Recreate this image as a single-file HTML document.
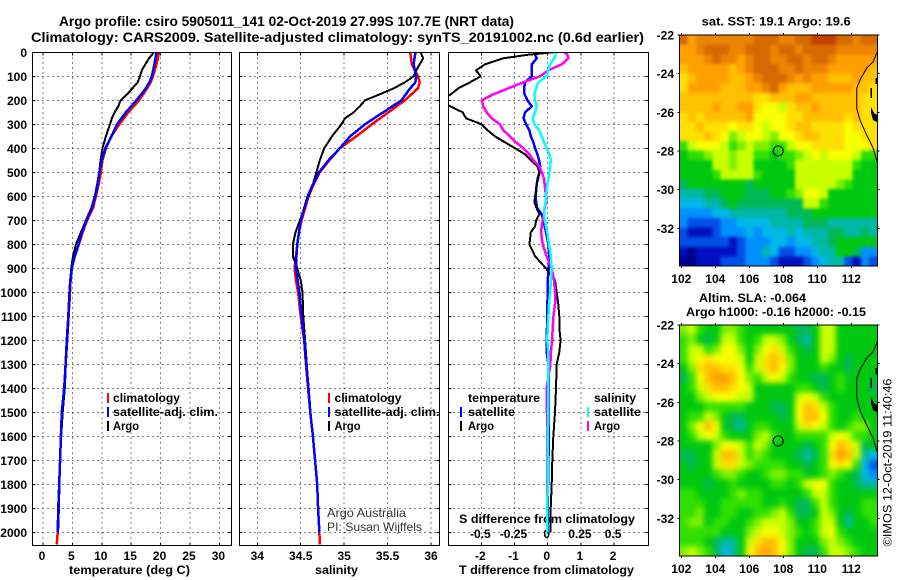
<!DOCTYPE html>
<html lang="en">
<head>
<meta charset="utf-8">
<title>Argo profile csiro 5905011_141</title>
<style>
html,body{margin:0;padding:0;background:#fff;}
svg{display:block;}
text{font-family:"Liberation Sans",sans-serif;fill:#000;}
.b{font-weight:bold;font-size:12px;}
.t{font-weight:bold;font-size:14px;}
</style>
</head>
<body>
<svg id="root" xmlns="http://www.w3.org/2000/svg" width="900" height="580" viewBox="0 0 900 580">
<rect x="0" y="0" width="900" height="580" fill="#fff"/>
<defs>
<clipPath id="clip-t"><rect x="32" y="52" width="200" height="493"/></clipPath>
<clipPath id="clip-s"><rect x="239" y="52" width="201" height="493"/></clipPath>
<clipPath id="clip-d"><rect x="448" y="52" width="201" height="493"/></clipPath>
<clipPath id="clip-map-35"><rect x="679.3" y="35" width="198" height="231"/></clipPath>
<clipPath id="clip-map-325"><rect x="679.3" y="325" width="198" height="231"/></clipPath>
<filter id="soft-sst" filterUnits="userSpaceOnUse" x="660" y="15" width="240" height="270" color-interpolation-filters="sRGB"><feGaussianBlur stdDeviation="1.5"/></filter>
<filter id="soft-sla" filterUnits="userSpaceOnUse" x="660" y="305" width="240" height="270" color-interpolation-filters="sRGB"><feGaussianBlur stdDeviation="3"/></filter>
</defs>
<text class="t" x="59" y="26" textLength="455" lengthAdjust="spacingAndGlyphs">Argo profile: csiro 5905011_141 02-Oct-2019 27.99S 107.7E (NRT data)</text>
<text class="t" x="31" y="42" textLength="613" lengthAdjust="spacingAndGlyphs">Climatology: CARS2009. Satellite-adjusted climatology: synTS_20191002.nc (0.6d earlier)</text>
<g id="heatmaps"></g>
<g id="grids"></g>
<text class="b" x="459" y="523" textLength="176" lengthAdjust="spacingAndGlyphs">S difference from climatology</text>
<g id="slabels"></g>
<g id="curves"></g>
<g id="frames"></g>
<g id="ticklabels"></g>

<text class="b" x="69" y="574" textLength="121" lengthAdjust="spacingAndGlyphs">temperature (deg C)</text>
<text class="b" x="315" y="574" textLength="43" lengthAdjust="spacingAndGlyphs">salinity</text>
<text class="b" x="459" y="574" textLength="175" lengthAdjust="spacingAndGlyphs">T difference from climatology</text>

<g>
<rect x="107" y="393" width="2" height="10" fill="#f00"/>
<text class="b" x="113" y="402" textLength="67" lengthAdjust="spacingAndGlyphs">climatology</text>
<rect x="107" y="407" width="2" height="10" fill="#00f"/>
<text class="b" x="113" y="416" textLength="105" lengthAdjust="spacingAndGlyphs">satellite-adj. clim.</text>
<rect x="107" y="421" width="2" height="10" fill="#000"/>
<text class="b" x="113" y="430" textLength="26" lengthAdjust="spacingAndGlyphs">Argo</text>
</g>
<g>
<rect x="328" y="393" width="2" height="10" fill="#f00"/>
<text class="b" x="334.5" y="402" textLength="67" lengthAdjust="spacingAndGlyphs">climatology</text>
<rect x="328" y="407" width="2" height="10" fill="#00f"/>
<text class="b" x="334.5" y="416" textLength="105" lengthAdjust="spacingAndGlyphs">satellite-adj. clim.</text>
<rect x="328" y="421" width="2" height="10" fill="#000"/>
<text class="b" x="334.5" y="430" textLength="26" lengthAdjust="spacingAndGlyphs">Argo</text>
</g>
<g>
<text class="b" x="468" y="402" textLength="72" lengthAdjust="spacingAndGlyphs">temperature</text>
<rect x="460" y="407" width="2" height="10" fill="#00f"/>
<text class="b" x="468" y="416" textLength="47" lengthAdjust="spacingAndGlyphs">satellite</text>
<rect x="460" y="421" width="2" height="10" fill="#000"/>
<text class="b" x="468" y="430" textLength="26" lengthAdjust="spacingAndGlyphs">Argo</text>
<text class="b" x="594" y="402" textLength="42" lengthAdjust="spacingAndGlyphs">salinity</text>
<rect x="587" y="407" width="2" height="10" fill="#0ff"/>
<text class="b" x="594" y="416" textLength="47" lengthAdjust="spacingAndGlyphs">satellite</text>
<rect x="587" y="421" width="2" height="10" fill="#f0f"/>
<text class="b" x="594" y="430" textLength="26" lengthAdjust="spacingAndGlyphs">Argo</text>
</g>

<text font-size="12" x="327" y="517" textLength="79" lengthAdjust="spacingAndGlyphs" style="fill:#333">Argo Australia</text>
<text font-size="12" x="327" y="531" textLength="95" lengthAdjust="spacingAndGlyphs" style="fill:#333">PI: Susan Wijffels</text>

<text class="b" x="701.7" y="25.5" textLength="149" lengthAdjust="spacingAndGlyphs">sat. SST: 19.1 Argo: 19.6</text>
<text class="b" x="699" y="302" textLength="107" lengthAdjust="spacingAndGlyphs">Altim. SLA: -0.064</text>
<text class="b" x="686" y="316" textLength="180" lengthAdjust="spacingAndGlyphs">Argo h1000: -0.16 h2000: -0.15</text>
<text font-size="12" transform="translate(891.5,546.5) rotate(-90)" x="0" y="0" textLength="168" lengthAdjust="spacingAndGlyphs">©IMOS 12-Oct-2019 11:40:46</text>
</svg>
<script>
// ---- profile data (depth in m, temperature in deg C, salinity) ----
const climDepths = [0,50,100,125,150,200,250,300,350,400,450,500,550,600,650,700,750,800,850,900,950,1000,1100,1200,1300,1400,1500,1600,1700,1800,1900,2000,2050];
const satDepths = [0,50,100,125,150,200,250,300,350,400,450,500,550,600,650,700,750,800,850,900,950,1000,1100,1200,1300,1400,1500,1600,1700,1800,1900,2000];
const argoDepths = [0,25,50,75,100,125,150,175,200,225,250,275,300,350,400,450,500,550,600,650,700,750,800,850,900,950,1000,1100,1200,1300,1400,1500,1600,1700,1800,1900,1985];
const tempClim = [19.75,19.3,18.7,18.3,17.7,16.35,14.5,13.0,11.6,10.7,10.1,9.85,9.45,9.0,8.5,7.5,6.75,6.1,5.4,4.9,4.7,4.6,4.35,4.1,3.85,3.6,3.25,3.05,2.9,2.75,2.6,2.5,2.35];
const tempSat = [19.3,18.95,18.5,18.1,17.5,15.9,14.1,12.6,11.65,10.6,10,9.6,9.3,8.9,8.3,7.4,6.6,6.05,5.4,4.9,4.65,4.5,4.3,4.05,3.85,3.6,3.2,3.05,2.9,2.75,2.6,2.5];
const tempArgo = [18.85,18.05,17.4,16.8,16.5,16.1,15.2,14.3,13.2,12.8,12.2,11.7,11.4,10.7,10.1,9.8,9.55,9.2,8.8,8.2,7.3,6.45,5.6,5.1,4.8,4.65,4.5,4.35,4.15,3.9,3.7,3.35,3.1,2.95,2.8,2.7,2.6];
const salClim = [35.76,35.78,35.85,35.87,35.85,35.70,35.51,35.32,35.14,34.95,34.83,34.72,34.65,34.59,34.55,34.51,34.48,34.46,34.445,34.43,34.445,34.47,34.50,34.54,34.56,34.585,34.61,34.64,34.665,34.69,34.70,34.715,34.72];
const salSat = [35.82,35.80,35.83,35.82,35.76,35.66,35.45,35.24,35.07,34.95,34.82,34.71,34.64,34.58,34.54,34.50,34.48,34.46,34.45,34.445,34.465,34.485,34.51,34.54,34.565,34.59,34.61,34.64,34.665,34.69,34.70,34.715];
const salArgo = [35.88,35.91,35.87,35.83,35.80,35.70,35.57,35.41,35.24,35.18,35.11,35.01,34.97,34.86,34.77,34.72,34.68,34.64,34.59,34.54,34.49,34.44,34.41,34.41,34.46,34.50,34.52,34.53,34.55,34.57,34.59,34.61,34.64,34.665,34.69,34.70,34.71];

// ---- difference-from-climatology data ----
const diffDepths = [0,10,25,50,75,100,125,150,175,200,225,250,275,300,325,350,375,400,425,450,475,500,525,550,600,625,650,675,700,725,750,800,850,900,950,1000,1050,1100,1150,1200,1250,1300,1400,1500,1600,1700,1800,1900,1950,2000];
const diffTempSat = [-.33,-.38,-.33,-.48,-.48,-.48,-.68,-.71,-.70,-.61,-.48,-.68,-.73,-.65,-.55,-.51,-.43,-.38,-.31,-.26,-.23,-.25,-.30,-.33,-.36,-.35,-.31,-.18,-.13,-.09,-.05,.02,.05,.03,0,0,-.01,-.01,-.02,-.03,-.03,.02,.03,.03,.04,.02,.01,0,0,0];
const diffTempArgo = [.17,-.58,-1.34,-1.89,-2.16,-2.02,-2.34,-2.69,-2.92,-3.2,-2.94,-2.56,-2.46,-1.99,-1.81,-1.59,-1.29,-.98,-.68,-.51,-.31,-.25,-.28,-.33,-.38,-.40,-.33,-.25,-.35,-.38,-.51,-.55,-.38,-.05,.22,.27,.32,.35,.35,.39,.35,.27,.25,.22,.17,.14,.12,.09,.09,.08];
const diffSalSat = [.068,.06,.048,.018,.005,-.008,-.07,-.088,-.10,-.095,-.083,-.095,-.113,-.10,-.063,-.045,-.028,-.008,.013,.023,.018,.013,.005,-.003,-.013,-.015,-.028,-.028,-.02,-.013,-.003,.01,.023,.03,.025,.018,.01,.005,0,-.003,.005,.005,.005,.005,0,0,0,-.003,-.003,-.003];
const diffSalArgo = [.126,.148,.156,.106,.005,-.058,-.183,-.296,-.41,-.497,-.485,-.46,-.422,-.36,-.334,-.284,-.239,-.183,-.138,-.108,-.063,-.045,-.028,-.023,-.013,-.013,-.023,-.028,-.038,-.045,-.05,-.038,-.008,.03,.048,.055,.055,.043,.038,.033,.023,.02,-.008,-.005,-.005,-.005,-.005,-.005,-.005,-.005];

// ---- tick labels ----
const depthTicks = [0,100,200,300,400,500,600,700,800,900,1000,1100,1200,1300,1400,1500,1600,1700,1800,1900,2000];
const tempTicks = [0,5,10,15,20,25,30];
const salTicks = [34,34.5,35,35.5,36];
const diffTempTicks = [-2,-1,0,1,2];
const diffSalTicks = [-0.5,-0.25,0,0.25,0.5];
const lonTicks = [102,104,106,108,110,112];
const latTicks = [-22,-24,-26,-28,-30,-32];

// ---- map data: colour level per cell, north to south, west to east ----
const sstRows = [
[16,14,15,15,15,15,15,15,15,16,16,16,15,15,16,16,17,17,17,16,16,15,16,16],
[14,14,15,16,16,16,15,15,16,16,16,15,16,16,15,16,16,16,16,15,15,15,15,15],
[14,14,14,15,16,15,15,14,15,16,16,15,15,16,16,15,16,16,15,14,14,14,14,14],
[13,14,14,14,14,14,13,14,15,16,16,16,15,15,16,15,15,15,14,14,14,14,14,13],
[12,13,14,14,14,14,13,13,14,15,16,16,16,15,14,15,14,14,13,13,13,14,13,13],
[12,14,14,14,14,13,13,13,14,14,15,16,14,13,13,13,14,14,14,14,14,13,13,12],
[13,13,13,13,13,13,13,13,13,12,12,13,13,13,14,14,13,13,13,13,13,13,12,12],
[13,13,13,13,14,13,13,14,14,12,11,11,10,12,13,13,14,13,13,13,13,13,12,12],
[12,13,12,13,13,13,13,13,14,11,11,11,11,12,12,13,13,13,13,13,12,13,12,12],
[12,12,13,12,12,12,11,12,12,11,10,11,11,12,13,13,12,12,12,12,11,12,12,12],
[12,12,12,13,12,11,9,10,11,11,10,9,11,11,12,13,13,12,12,12,11,11,12,12],
[8,10,11,11,11,10,8,9,10,9,9,8,8,10,11,11,12,12,12,12,11,11,11,12],
[7,8,8,9,10,10,9,10,10,8,8,7,8,8,9,10,11,10,11,11,11,10,8,8],
[7,7,7,7,10,10,9,10,10,7,7,7,7,8,10,10,10,10,10,10,10,8,7,7],
[7,7,7,7,8,10,10,10,10,8,7,7,7,7,10,10,10,10,10,10,10,7,7,7],
[6,7,7,7,7,7,7,7,6,7,7,7,7,7,10,10,10,10,10,9,8,7,7,7],
[5,5,5,6,6,7,7,7,6,6,6,7,7,8,9,11,11,10,7,7,7,7,7,7],
[4,4,4,5,5,6,7,6,6,6,6,6,6,6,6,10,10,8,7,7,7,7,7,7],
[3,3,3,3,4,4,5,5,5,5,5,5,5,6,6,6,7,7,7,7,7,7,7,7],
[3,2,2,2,2,3,3,4,4,4,4,5,5,5,5,6,6,6,5,5,5,5,5,5],
[2,1,1,1,2,3,3,3,4,3,4,4,4,5,4,5,5,5,6,6,5,5,6,5],
[2,2,2,2,2,2,1,2,3,3,3,4,4,3,4,4,5,5,6,7,7,7,7,7],
[1,0,1,1,1,1,1,2,3,3,5,4,2,2,3,3,4,5,5,7,7,6,3,3],
[0,0,1,1,1,2,2,2,3,3,3,2,1,1,1,2,3,4,5,5,2,1,3,2]
];
const slaRows = [
[9,10,8,7,7,9,9,8,7,7,7,7,7,7,6,6,7,10,10,7,7,7,7,7],
[8,9,7,6,7,10,10,8,7,8,10,10,9,7,6,5,7,10,10,7,7,7,7,7],
[8,10,10,8,9,11,11,9,7,9,11,12,10,8,7,6,7,10,10,7,7,7,7,7],
[8,10,11,12,11,11,11,10,7,10,12,13,12,9,7,7,7,10,9,7,6,7,7,7],
[7,9,12,13,13,12,12,11,8,10,12,13,11,9,7,7,7,8,7,7,6,7,7,7],
[6,8,11,13,14,14,13,11,9,8,10,11,10,8,7,7,6,6,7,8,7,7,7,7],
[7,8,10,12,13,13,12,11,10,7,7,7,7,7,8,8,7,6,7,8,7,7,7,6],
[7,7,9,10,11,11,11,10,10,7,7,7,7,7,10,11,10,8,7,7,7,7,7,7],
[7,7,7,8,8,8,8,8,7,7,7,6,6,7,11,13,12,10,8,7,7,7,7,7],
[7,8,8,10,9,7,6,6,7,7,7,7,6,7,11,13,13,11,8,7,7,8,7,7],
[7,9,11,13,11,7,6,5,7,8,8,7,7,7,10,12,11,10,8,7,8,9,9,7],
[7,8,10,11,10,8,7,7,7,9,10,8,7,7,8,8,8,8,10,11,10,8,8,7],
[7,7,7,7,9,11,11,10,8,10,9,7,7,7,7,6,7,8,11,13,12,10,6,7],
[6,6,7,7,10,13,13,10,8,9,8,7,7,7,6,5,6,8,12,14,13,10,5,4],
[7,6,7,7,10,12,12,10,9,8,8,8,8,7,7,6,7,8,11,12,11,8,4,2],
[7,7,7,7,8,9,9,8,7,7,8,9,9,8,8,7,7,8,9,8,7,6,4,3],
[7,7,7,6,7,7,8,7,7,7,7,8,8,7,8,10,11,11,8,7,7,6,5,5],
[8,8,7,7,7,7,8,9,8,8,7,7,7,7,7,8,10,10,8,7,7,7,7,7],
[8,8,8,7,7,8,8,8,8,8,7,7,8,7,6,6,8,10,8,7,7,7,8,8],
[8,8,9,7,7,8,8,7,7,8,8,9,10,8,6,6,7,10,9,7,6,7,8,8],
[8,9,9,7,8,8,7,7,8,9,10,10,10,9,7,7,8,10,10,7,5,7,7,8],
[8,8,8,8,8,7,7,7,9,10,11,11,10,9,8,7,8,10,11,8,7,7,7,7],
[8,8,8,7,6,5,5,7,10,12,13,13,11,9,7,7,7,9,10,9,8,7,7,7],
[9,10,9,8,6,4,5,7,11,13,14,13,11,9,7,6,6,8,10,10,9,8,7,7]
];
const mapColours = ['#00008c','#0010c0','#0050e8','#0090ff','#00b8e8','#00b8a8','#00b858','#00c810','#30e000','#80f000','#c8ff00','#f8ff00','#ffe000','#ffc000','#ffa000','#ec8400','#d86800','#c04000'];
const coastLons = [113.51,113.29,112.9,112.51,112.32,112.32,112.51,112.9,113.29,113.51];
const coastLats = [-22.9,-23.38,-23.72,-24.33,-24.76,-25.79,-26.4,-27.17,-27.86,-28.55];
const floatLon = 107.7;
const floatLat = -28;

// ---- axis functions ----
const NS = 'http://www.w3.org/2000/svg';
const yDepth = d => 52.3 + 0.24 * d;
const xTemp = t => 43 + 5.88 * t;
const xSal = s => 257.3 + 86.85 * (s - 34);
const xDT = v => 547.7 + 33.2 * v;
const xDS = v => 547.7 + 132.8 * v;
const lonScale = lon => 681.3 + 17 * (lon - 102);
const latScale = (lat, top) => top + 19.33 * (-22 - lat);

function mk(tag, parent, attrs) {
  const el = document.createElementNS(NS, tag);
  for (const k in attrs) el.setAttribute(k, attrs[k]);
  parent.appendChild(el);
  return el;
}
function gridLine(parent, x1, y1, x2, y2) {
  const el = mk('line', parent, {x1:x1, y1:y1, x2:x2, y2:y2, stroke:'#000', 'stroke-width':1, 'stroke-dasharray':'1 4', 'shape-rendering':'crispEdges'});
  
  
}
function tickMark(parent, x1, y1, x2, y2) {
  const el = mk('line', parent, {x1:x1, y1:y1, x2:x2, y2:y2, stroke:'#000', 'stroke-width':1, 'shape-rendering':'crispEdges'});
  
  
}
function label(parent, x, y, txt, anchor) {
  const el = mk('text', parent, {x:x, y:y, 'text-anchor':anchor, 'class':'b'});
  el.textContent = txt;
  
  
}
function curve(parent, name, xs, ds, xfn, colour, width, clip) {
  const pts = xs.map((v, i) => xfn(v).toFixed(1) + ',' + yDepth(ds[i]).toFixed(1)).join(' ');
  const el = mk('polyline', parent, {points:pts, fill:'none', stroke:colour, 'stroke-width':width, 'stroke-linejoin':'round', 'shape-rendering':'crispEdges', 'clip-path':'url(#' + clip + ')'});
  
  
}
function frame(parent, name, x, y, w, h) {
  const el = mk('rect', parent, {x:x, y:y, width:w, height:h, fill:'none', stroke:'#000', 'stroke-width':1, 'shape-rendering':'crispEdges'});
  
  
}

const gGrid = document.getElementById('grids');
const gCurves = document.getElementById('curves');
const gFrames = document.getElementById('frames');
const gLabels = document.getElementById('ticklabels');
const gSLabels = document.getElementById('slabels');
const gMaps = document.getElementById('heatmaps');

// ---- profile panels ----
const panels = [
  {left:32.5, right:231.5, ticks:tempTicks, fn:xTemp, name:'temperature-panel'},
  {left:239.5, right:439.5, ticks:salTicks, fn:xSal, name:'salinity-panel'},
  {left:448.5, right:648.5, ticks:diffTempTicks, fn:xDT, name:'difference-panel'}
];
panels.forEach(p => {
  depthTicks.forEach(d => {
    if (d === 0) return;
    gridLine(gGrid, p.left, yDepth(d), p.right, yDepth(d));
    tickMark(gFrames, p.left, yDepth(d), p.left + 3, yDepth(d));
    tickMark(gFrames, p.right - 3, yDepth(d), p.right, yDepth(d));
  });
  p.ticks.forEach(t => {
    gridLine(gGrid, p.fn(t), 52.5, p.fn(t), 545.5);
    tickMark(gFrames, p.fn(t), 52.5, p.fn(t), 55.5);
    tickMark(gFrames, p.fn(t), 542.5, p.fn(t), 545.5);
  });
  frame(gFrames, p.name, p.left, 52.5, p.right - p.left, 493);
});

depthTicks.forEach(d => {
  label(gLabels, 27, yDepth(d) + 4.5, String(d), 'end');
});
tempTicks.forEach(t => {
  label(gLabels, xTemp(t) - 1, 560, String(t), 'middle');
});
salTicks.forEach(s => {
  label(gLabels, xSal(s), 560, String(s), 'middle');
});
diffTempTicks.forEach(t => {
  label(gLabels, xDT(t) - 1, 560, String(t), 'middle');
});
diffSalTicks.forEach(s => {
  label(gSLabels, xDS(s) - 1, 538, String(s), 'middle');
});

curve(gCurves, 'temperature-climatology-line', tempClim, climDepths, xTemp, '#f00', 2.5, 'clip-t');
curve(gCurves, 'temperature-argo-line', tempArgo, argoDepths, xTemp, '#000', 2, 'clip-t');
curve(gCurves, 'temperature-satellite-line', tempSat, satDepths, xTemp, '#00f', 2.5, 'clip-t');
curve(gCurves, 'salinity-climatology-line', salClim, climDepths, xSal, '#f00', 2.5, 'clip-s');
curve(gCurves, 'salinity-argo-line', salArgo, argoDepths, xSal, '#000', 2, 'clip-s');
curve(gCurves, 'salinity-satellite-line', salSat, satDepths, xSal, '#00f', 2.5, 'clip-s');
curve(gCurves, 'difference-t-satellite-line', diffTempSat, diffDepths, xDT, '#00f', 2.5, 'clip-d');
curve(gCurves, 'difference-t-argo-line', diffTempArgo, diffDepths, xDT, '#000', 2, 'clip-d');
curve(gCurves, 'difference-s-argo-line', diffSalArgo, diffDepths, xDS, '#f0f', 2.5, 'clip-d');
curve(gCurves, 'difference-s-satellite-line', diffSalSat, diffDepths, xDS, '#0ff', 2.5, 'clip-d');

// ---- maps ----
function drawMap(rows, top, name, softId) {
  const group = mk('g', gMaps, {});
  
  
  const clipWrap = mk('g', group, {'clip-path':'url(#clip-map-' + top + ')'});
  
  
  const cells = mk('g', clipWrap, {filter:'url(#' + softId + ')'});
  
  
  const left = 679.3, w = 198, h = 231, bleed = 10;
  const cw = w / rows[0].length, ch = h / rows.length;
  rows.forEach((row, r) => {
    row.forEach((lvl, c) => {
      const x0 = left + c * cw - (c === 0 ? bleed : 0);
      const y0 = top + r * ch - (r === 0 ? bleed : 0);
      const x1 = left + (c + 1) * cw + (c === row.length - 1 ? bleed : 0);
      const y1 = top + (r + 1) * ch + (r === rows.length - 1 ? bleed : 0);
      const cell = mk('rect', cells, {x:x0.toFixed(2), y:y0.toFixed(2), width:(x1 - x0 + 0.4).toFixed(2), height:(y1 - y0 + 0.4).toFixed(2), fill:mapColours[lvl], 'shape-rendering':'crispEdges'});
      
      
    });
  });
  const coast = mk('polyline', group, {points:coastLons.map((lon, i) => lonScale(lon).toFixed(1) + ',' + latScale(coastLats[i], top).toFixed(1)).join(' '), fill:'none', stroke:'#000', 'stroke-width':1});
  
  
  const island1 = mk('rect', group, {x:870.5, y:top + 53, width:1.5, height:10, fill:'#000'});
  
  
  const island2 = mk('rect', group, {x:875.5, y:top + 43, width:1.5, height:6, fill:'#000'});
  
  
  const island3 = mk('polygon', group, {points:[871,top+72,874,top+78,877,top+80,877,top+87,873,top+85,871,top+78].join(','), fill:'#000'});
  
  
  const marker = mk('circle', group, {cx:lonScale(floatLon), cy:latScale(floatLat, top), r:5, fill:'none', stroke:'#000', 'stroke-width':1});
  
  
  frame(group, 'map-frame', left, top, w, h);
  lonTicks.forEach(lon => {
    tickMark(group, lonScale(lon), top - 2, lonScale(lon), top);
    tickMark(group, lonScale(lon), top + h, lonScale(lon), top + h + 2);
    label(group, lonScale(lon), top + 248, String(lon), 'middle');
  });
  latTicks.forEach(lat => {
    tickMark(group, left - 2, latScale(lat, top), left, latScale(lat, top));
    tickMark(group, left + w, latScale(lat, top), left + w + 2, latScale(lat, top));
    label(group, 674, latScale(lat, top) + 4.5, String(lat), 'end');
  });
}
drawMap(sstRows, 35, 'sst-map', 'soft-sst');
drawMap(slaRows, 325, 'sla-map', 'soft-sla');
</script>
</body>
</html>
